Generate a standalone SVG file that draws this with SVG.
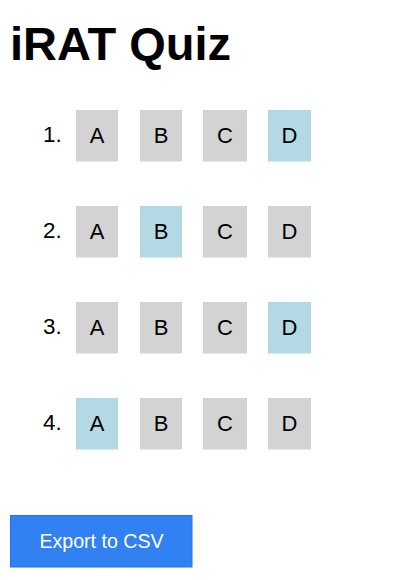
<svg xmlns="http://www.w3.org/2000/svg" width="400" height="580" viewBox="0 0 400 580">
<style>
text{font-family:"Liberation Sans",Arial,sans-serif;fill:#000}
.title{font-size:47px;font-weight:bold}
.num{font-size:22.4px}
.opt{font-size:22px;text-anchor:middle}
.g{fill:#d3d3d3}
.b{fill:#b3d9e4}
.btn{fill:#3181f3;stroke:#1f74f2;stroke-width:1}
.btnt{font-size:19.6px;fill:#fff;text-anchor:middle}
</style>
<rect width="400" height="580" fill="#fff"/>
<text class="title" x="10" y="60">iRAT Quiz</text>
<g id="q1">
<text class="num" x="43" y="141.7">1.</text>
<rect class="g" x="76" y="110" width="42" height="51.5"/><text class="opt" x="97" y="143.3">A</text>
<rect class="g" x="140" y="110" width="42" height="51.5"/><text class="opt" x="161" y="143.3">B</text>
<rect class="g" x="203" y="110" width="44" height="51.5"/><text class="opt" x="225" y="143.3">C</text>
<rect class="b" x="268" y="110" width="43" height="51.5"/><text class="opt" x="289.5" y="143.3">D</text>
</g>
<g id="q2">
<text class="num" x="43" y="237.7">2.</text>
<rect class="g" x="76" y="206" width="42" height="51.5"/><text class="opt" x="97" y="239.3">A</text>
<rect class="b" x="140" y="206" width="42" height="51.5"/><text class="opt" x="161" y="239.3">B</text>
<rect class="g" x="203" y="206" width="44" height="51.5"/><text class="opt" x="225" y="239.3">C</text>
<rect class="g" x="268" y="206" width="43" height="51.5"/><text class="opt" x="289.5" y="239.3">D</text>
</g>
<g id="q3">
<text class="num" x="43" y="333.7">3.</text>
<rect class="g" x="76" y="302" width="42" height="51.5"/><text class="opt" x="97" y="335.3">A</text>
<rect class="g" x="140" y="302" width="42" height="51.5"/><text class="opt" x="161" y="335.3">B</text>
<rect class="g" x="203" y="302" width="44" height="51.5"/><text class="opt" x="225" y="335.3">C</text>
<rect class="b" x="268" y="302" width="43" height="51.5"/><text class="opt" x="289.5" y="335.3">D</text>
</g>
<g id="q4">
<text class="num" x="43" y="429.7">4.</text>
<rect class="b" x="76" y="398" width="42" height="51.5"/><text class="opt" x="97" y="431.3">A</text>
<rect class="g" x="140" y="398" width="42" height="51.5"/><text class="opt" x="161" y="431.3">B</text>
<rect class="g" x="203" y="398" width="44" height="51.5"/><text class="opt" x="225" y="431.3">C</text>
<rect class="g" x="268" y="398" width="43" height="51.5"/><text class="opt" x="289.5" y="431.3">D</text>
</g>
<g id="export">
<rect class="btn" x="10.5" y="515.5" width="181.5" height="51.5"/>
<text class="btnt" x="101.5" y="548">Export to CSV</text>
</g>
<g id="connectors"/>
</svg>
